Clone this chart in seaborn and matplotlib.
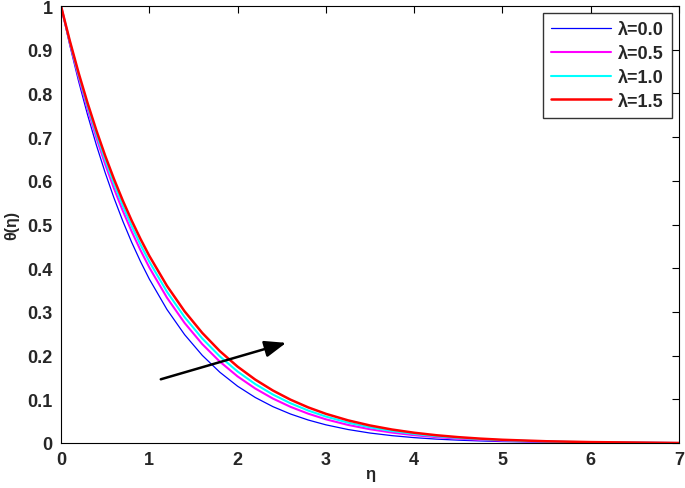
import matplotlib
matplotlib.use("Agg")
import matplotlib.pyplot as plt
import seaborn as sns
import pandas as pd

eta = [0, 0.1, 0.2, 0.3, 0.4, 0.5, 0.6, 0.7, 0.8, 0.9, 1.0,
       1.2, 1.4, 1.6, 1.8, 2.0, 2.2, 2.4, 2.6, 2.8, 3.0,
       3.25, 3.5, 3.75, 4.0, 4.25, 4.5, 4.75, 5.0, 5.5, 6.0, 6.5, 7.0]
theta_l00 = [1.0, 0.9099, 0.8273, 0.7516, 0.6822, 0.6188, 0.5608, 0.5078, 0.4595, 0.4155, 0.3753,
             0.3056, 0.2480, 0.2006, 0.1618, 0.1300, 0.1042, 0.0832, 0.0663, 0.0526, 0.0416,
             0.0309, 0.0228, 0.0168, 0.0123, 0.0089, 0.0065, 0.0047, 0.0033, 0.0017, 0.0008, 0.0004, 0.0]
theta_l05 = [1.0, 0.9151, 0.8369, 0.7651, 0.6990, 0.6382, 0.5825, 0.5313, 0.4843, 0.4413, 0.4018,
             0.3326, 0.2747, 0.2263, 0.1860, 0.1524, 0.1247, 0.1017, 0.0827, 0.0671, 0.0542,
             0.0414, 0.0315, 0.0238, 0.0179, 0.0134, 0.0100, 0.0074, 0.0054, 0.0029, 0.0015, 0.0008, 0.0]
theta_l10 = [1.0, 0.9176, 0.8417, 0.7718, 0.7073, 0.6479, 0.5933, 0.5430, 0.4967, 0.4542, 0.4151,
             0.3461, 0.2880, 0.2391, 0.1980, 0.1636, 0.1349, 0.1109, 0.0909, 0.0743, 0.0605,
             0.0467, 0.0358, 0.0273, 0.0207, 0.0156, 0.0117, 0.0087, 0.0064, 0.0034, 0.0018, 0.0009, 0.0]
theta_l15 = [1.0, 0.9202, 0.8465, 0.7785, 0.7157, 0.6576, 0.6041, 0.5547, 0.5091, 0.4671, 0.4283,
             0.3596, 0.3013, 0.2519, 0.2101, 0.1748, 0.1451, 0.1201, 0.0991, 0.0815, 0.0668,
             0.0519, 0.0401, 0.0308, 0.0235, 0.0178, 0.0134, 0.0100, 0.0074, 0.0040, 0.0021, 0.0011, 0.0]
labels = ["λ=0.0", "λ=0.5", "λ=1.0", "λ=1.5"]
ytick_labels = ["0", "0.1", "0.2", "0.3", "0.4", "0.5", "0.6", "0.7", "0.8", "0.9", "1"]
series = [theta_l00, theta_l05, theta_l10, theta_l15]
colors = ["#0000ff", "#ff00ff", "#00ffff", "#ff0000"]
widths = [0.9, 1.5, 1.5, 1.8]

sns.set_style("white")
plt.rcParams["font.family"] = ["Liberation Sans", "DejaVu Sans"]
plt.rcParams["font.weight"] = "bold"

fig = plt.figure(figsize=(6.85, 4.89), dpi=100)
ax = fig.add_axes([61/685, 1-444/489, (679-61)/685, (444-7)/489])

for lab, ys, c, w in zip(labels, series, colors, widths):
    df = pd.DataFrame({"eta": eta, "theta": ys})
    sns.lineplot(data=df, x="eta", y="theta", ax=ax, color=c, linewidth=w, label=lab)

ax.set_xlim(0, 7)
ax.set_ylim(0, 1)
ax.set_xticks(range(0, 8))
ax.set_yticks([i/10 for i in range(0, 11)])
ax.set_yticklabels(ytick_labels)
ax.tick_params(direction="in", length=5, width=0.8, top=True, right=True,
               labelsize=13, pad=6, color="black")
for t in ax.get_xticklabels() + ax.get_yticklabels():
    t.set_fontweight("bold")
for s in ax.spines.values():
    s.set_color("black")
    s.set_linewidth(0.8)

ax.set_xlabel("η", fontsize=12, fontweight="bold")
ax.set_ylabel("θ(η)", fontsize=11.5, fontweight="bold")
ax.yaxis.set_label_coords(-0.068, 0.5)
ax.xaxis.set_label_coords(0.5, -0.052)

ax.annotate("", xy=(2.58, 0.231), xytext=(1.10, 0.144),
            arrowprops=dict(arrowstyle="-|>,head_length=1.3,head_width=0.5",
                            color="black", lw=1.8))

leg = ax.legend(loc="upper right", bbox_to_anchor=(672/685, 1-14/489), bbox_transform=fig.transFigure,
                frameon=True, fancybox=False, handlelength=3.3, handletextpad=0.4,
                borderpad=0.45, labelspacing=0.38, borderaxespad=0,
                prop={"weight": "bold", "size": 13})
leg.get_frame().set_edgecolor("black")
leg.get_frame().set_linewidth(1.0)

fig.savefig("out.png", dpi=100)
